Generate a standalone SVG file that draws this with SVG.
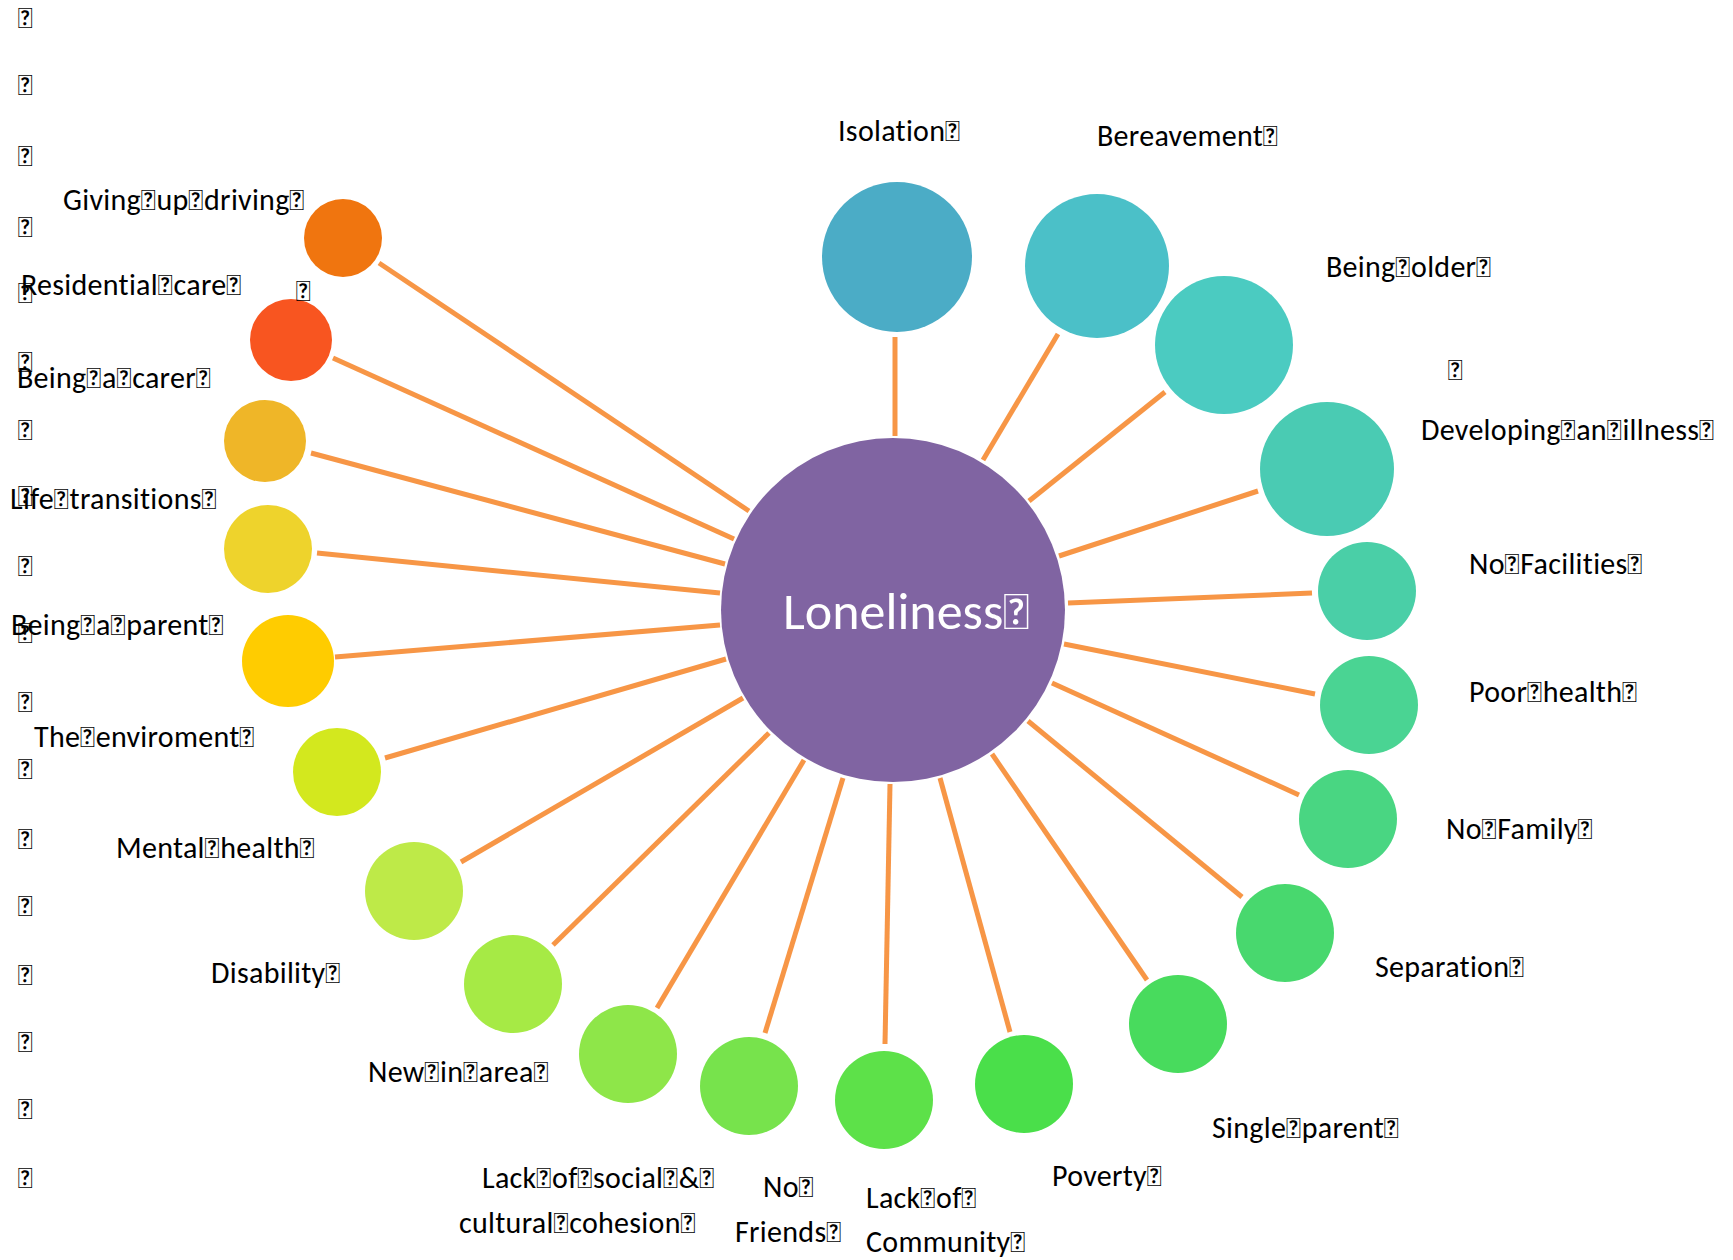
<svg xmlns="http://www.w3.org/2000/svg" width="1733" height="1260" viewBox="0 0 1733 1260">
<style>
.lbl{font-family:Carlito,Calibri,Lato,"Liberation Sans",sans-serif;font-size:30px;letter-spacing:0.3px;fill:#000}
.center{font-family:Carlito,Calibri,Lato,"Liberation Sans",sans-serif;font-size:52px;fill:#fff}
.con line{stroke:#F79646;stroke-width:5;stroke-linecap:butt}
</style>
<rect width="1733" height="1260" fill="#fff"/>
<g id="connectors" class="con">
<line x1="895" y1="337" x2="895" y2="436"/>
<line x1="1058" y1="334" x2="983" y2="460"/>
<line x1="1165" y1="392" x2="1029" y2="501"/>
<line x1="1258" y1="491" x2="1059" y2="556"/>
<line x1="1312" y1="593" x2="1068" y2="603"/>
<line x1="1315" y1="694" x2="1064" y2="644"/>
<line x1="1299" y1="795" x2="1052" y2="683"/>
<line x1="1242" y1="897" x2="1028" y2="721"/>
<line x1="1147" y1="980" x2="992" y2="754"/>
<line x1="1010" y1="1032" x2="940" y2="778"/>
<line x1="885" y1="1044" x2="890" y2="784"/>
<line x1="765" y1="1033" x2="843" y2="778"/>
<line x1="657" y1="1008" x2="804" y2="760"/>
<line x1="553" y1="945" x2="769" y2="733"/>
<line x1="461" y1="862" x2="743" y2="698"/>
<line x1="385" y1="758" x2="726" y2="659"/>
<line x1="335" y1="657" x2="720" y2="625"/>
<line x1="317" y1="553" x2="720" y2="593"/>
<line x1="311" y1="453" x2="725" y2="564"/>
<line x1="333" y1="358" x2="734" y2="539"/>
<line x1="379" y1="263" x2="749" y2="511"/>
</g>
<g id="loneliness"><circle cx="893" cy="610" r="172" fill="#8064A2"/><text class="center" x="783" y="629">Loneliness&#xF020;</text></g>
<g id="isolation"><circle cx="897" cy="257" r="75" fill="#4BACC6"/><text class="lbl" x="838" y="141">Isolation&#xF020;</text></g>
<g id="bereavement"><circle cx="1097" cy="266" r="72" fill="#4BC0C8"/><text class="lbl" x="1097" y="146">Bereavement&#xF020;</text></g>
<g id="being-older"><circle cx="1224" cy="345" r="69" fill="#4BCBC1"/><text class="lbl" x="1326" y="277">Being&#xF020;older&#xF020;</text></g>
<g id="developing"><circle cx="1327" cy="469" r="67" fill="#4ACBB3"/><text class="lbl" x="1421" y="440">Developing&#xF020;an&#xF020;illness&#xF020;</text><text class="lbl" x="1448" y="380">&#xF020;</text></g>
<g id="no-facilities"><circle cx="1367" cy="591" r="49" fill="#4ACFA7"/><text class="lbl" x="1469" y="574">No&#xF020;Facilities&#xF020;</text></g>
<g id="poor-health"><circle cx="1369" cy="705" r="49" fill="#4AD493"/><text class="lbl" x="1469" y="702">Poor&#xF020;health&#xF020;</text></g>
<g id="no-family"><circle cx="1348" cy="819" r="49" fill="#49D682"/><text class="lbl" x="1446" y="839">No&#xF020;Family&#xF020;</text></g>
<g id="separation"><circle cx="1285" cy="933" r="49" fill="#48D86E"/><text class="lbl" x="1375" y="977">Separation&#xF020;</text></g>
<g id="single-parent"><circle cx="1178" cy="1024" r="49" fill="#48DB5D"/><text class="lbl" x="1212" y="1138">Single&#xF020;parent&#xF020;</text></g>
<g id="poverty"><circle cx="1024" cy="1084" r="49" fill="#4ADF4A"/><text class="lbl" x="1052" y="1186">Poverty&#xF020;</text></g>
<g id="lack-community"><circle cx="884" cy="1100" r="49" fill="#5DE149"/><text class="lbl" x="866" y="1208">Lack&#xF020;of&#xF020;</text><text class="lbl" x="866" y="1252">Community&#xF020;</text></g>
<g id="no-friends"><circle cx="749" cy="1086" r="49" fill="#77E34C"/><text class="lbl" x="763" y="1197">No&#xF020;</text><text class="lbl" x="735" y="1242">Friends&#xF020;</text></g>
<g id="lack-social"><circle cx="628" cy="1054" r="49" fill="#8EE649"/><text class="lbl" x="482" y="1188">Lack&#xF020;of&#xF020;social&#xF020;&amp;&#xF020;</text><text class="lbl" x="459" y="1233">cultural&#xF020;cohesion&#xF020;</text></g>
<g id="new-in-area"><circle cx="513" cy="984" r="49" fill="#A6EA45"/><text class="lbl" x="368" y="1082">New&#xF020;in&#xF020;area&#xF020;</text></g>
<g id="disability"><circle cx="414" cy="891" r="49" fill="#BEEA48"/><text class="lbl" x="211" y="983">Disability&#xF020;</text></g>
<g id="mental-health"><circle cx="337" cy="772" r="44" fill="#D3E81E"/><text class="lbl" x="116" y="858">Mental&#xF020;health&#xF020;</text></g>
<g id="enviroment"><circle cx="288" cy="661" r="46" fill="#FFCC00"/><text class="lbl" x="34" y="747">The&#xF020;enviroment&#xF020;</text></g>
<g id="being-parent"><circle cx="268" cy="549" r="44" fill="#EED32C"/><text class="lbl" x="11" y="635">Being&#xF020;a&#xF020;parent&#xF020;</text></g>
<g id="life-transitions"><circle cx="265" cy="441" r="41" fill="#EFB628"/><text class="lbl" x="10" y="509">Life&#xF020;transitions&#xF020;</text></g>
<g id="being-carer"><circle cx="291" cy="340" r="41" fill="#F85520"/><text class="lbl" x="17" y="388">Being&#xF020;a&#xF020;carer&#xF020;</text></g>
<g id="residential-care"><circle cx="343" cy="238" r="39" fill="#F0750F"/><text class="lbl" x="21" y="295">Residential&#xF020;care&#xF020;</text><text class="lbl" x="296" y="301">&#xF020;</text></g>
<g id="giving-up-driving"><text class="lbl" x="63" y="210">Giving&#xF020;up&#xF020;driving&#xF020;</text></g>
<g id="margin-marks">
<text class="lbl" x="18" y="28">&#xF020;</text>
<text class="lbl" x="18" y="95">&#xF020;</text>
<text class="lbl" x="18" y="166">&#xF020;</text>
<text class="lbl" x="18" y="237">&#xF020;</text>
<text class="lbl" x="18" y="303">&#xF020;</text>
<text class="lbl" x="18" y="372">&#xF020;</text>
<text class="lbl" x="18" y="440">&#xF020;</text>
<text class="lbl" x="18" y="506">&#xF020;</text>
<text class="lbl" x="18" y="576">&#xF020;</text>
<text class="lbl" x="18" y="643">&#xF020;</text>
<text class="lbl" x="18" y="712">&#xF020;</text>
<text class="lbl" x="18" y="779">&#xF020;</text>
<text class="lbl" x="18" y="849">&#xF020;</text>
<text class="lbl" x="18" y="916">&#xF020;</text>
<text class="lbl" x="18" y="985">&#xF020;</text>
<text class="lbl" x="18" y="1052">&#xF020;</text>
<text class="lbl" x="18" y="1119">&#xF020;</text>
<text class="lbl" x="18" y="1188">&#xF020;</text>
</g>
</svg>
